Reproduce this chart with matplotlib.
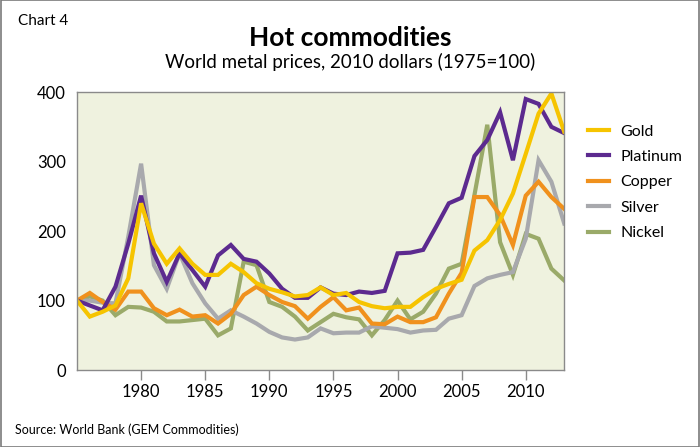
import numpy as np
import matplotlib.pyplot as plt
from matplotlib.patches import Rectangle

plt.rcParams["font.family"] = ["Lato", "DejaVu Sans"]

# --------------------------------------------------------------
# Data (index, 1975 = 100)
# --------------------------------------------------------------
years = list(range(1975, 2014))

gold = [100, 77, 84, 93, 132, 240, 182, 153, 175, 153,
        137, 137, 153, 141, 125, 117, 112, 106, 108, 119,
        108, 111, 98, 92, 89, 91, 91, 105, 117, 124,
        130, 172, 187, 216, 254, 311, 369, 398, 343]
platinum = [100, 93, 86, 120, 182, 251, 168, 127, 168, 144,
            120, 165, 180, 160, 156, 139, 117, 104, 104, 119,
            110, 108, 113, 111, 114, 168, 169, 173, 206, 240,
            248, 308, 331, 371, 302, 390, 383, 350, 341]
copper = [100, 111, 98, 87, 113, 113, 89, 79, 87, 77,
          79, 67, 81, 108, 120, 108, 98, 92, 74, 91,
          105, 86, 90, 67, 66, 77, 69, 69, 76, 110,
          140, 249, 249, 223, 180, 251, 271, 249, 232]
silver = [100, 100, 97, 96, 192, 297, 151, 117, 168, 125,
          96, 74, 86, 77, 67, 55, 47, 44, 47, 60,
          53, 54, 54, 63, 61, 59, 54, 57, 58, 74,
          79, 121, 132, 137, 141, 189, 302, 271, 211]
nickel = [100, 106, 100, 79, 91, 90, 84, 70, 70, 72,
          74, 50, 60, 156, 151, 98, 91, 77, 57, 69,
          81, 76, 73, 50, 72, 100, 73, 84, 110, 146,
          153, 252, 353, 184, 137, 196, 189, 146, 129]

series = [("Gold", gold, "#f6c400"),
          ("Platinum", platinum, "#5c2a8f"),
          ("Copper", copper, "#f0911d"),
          ("Silver", silver, "#a8a9ad"),
          ("Nickel", nickel, "#9aaa69")]

# --------------------------------------------------------------
# Plot
# --------------------------------------------------------------
fig = plt.figure(figsize=(7, 4.47), dpi=100)
ax = fig.add_axes([0.110, 0.172, 0.696, 0.622])
ax.set_facecolor("#eff2df")

handles = {}
# draw from bottom to top: nickel, silver, copper, platinum, gold
for name, vals, col in reversed(series):
    line, = ax.plot(years, vals, color=col, lw=3, solid_joinstyle="miter", label=name)
    handles[name] = line

ax.set_xlim(1975, 2013)
ax.set_ylim(0, 400)
ax.set_xticks(range(1980, 2011, 5))
ax.set_yticks(range(0, 401, 100))
ax.tick_params(axis="x", length=7, color="#8a8a8a", width=1, labelsize=12, pad=3)
ax.tick_params(axis="y", length=0, labelsize=12, pad=8)
for s in ax.spines.values():
    s.set_color("#8a8a8a")
    s.set_linewidth(1)

ax.legend([handles[n] for n, _, _ in series], [n for n, _, _ in series],
          loc="upper left", bbox_to_anchor=(1.02, 0.935), frameon=False,
          fontsize=11.5, handlelength=1.3, labelspacing=0.7, handletextpad=0.7)

fig.text(0.5, 0.915, "Hot commodities", ha="center", va="center",
         fontsize=19, fontweight="bold")
fig.text(0.5, 0.861, "World metal prices, 2010 dollars (1975=100)", ha="center",
         va="center", fontsize=13.5)
fig.text(0.026, 0.953, "Chart 4", ha="left", va="center", fontsize=11)
fig.text(0.022, 0.038, "Source: World Bank (GEM Commodities)", ha="left",
         va="center", fontsize=9)

fig.patches.append(Rectangle((0.001, 0.001), 0.998, 0.998, transform=fig.transFigure,
                             fill=False, edgecolor="#7a7a7a", lw=1.2))

fig.savefig("out.png", dpi=100)
